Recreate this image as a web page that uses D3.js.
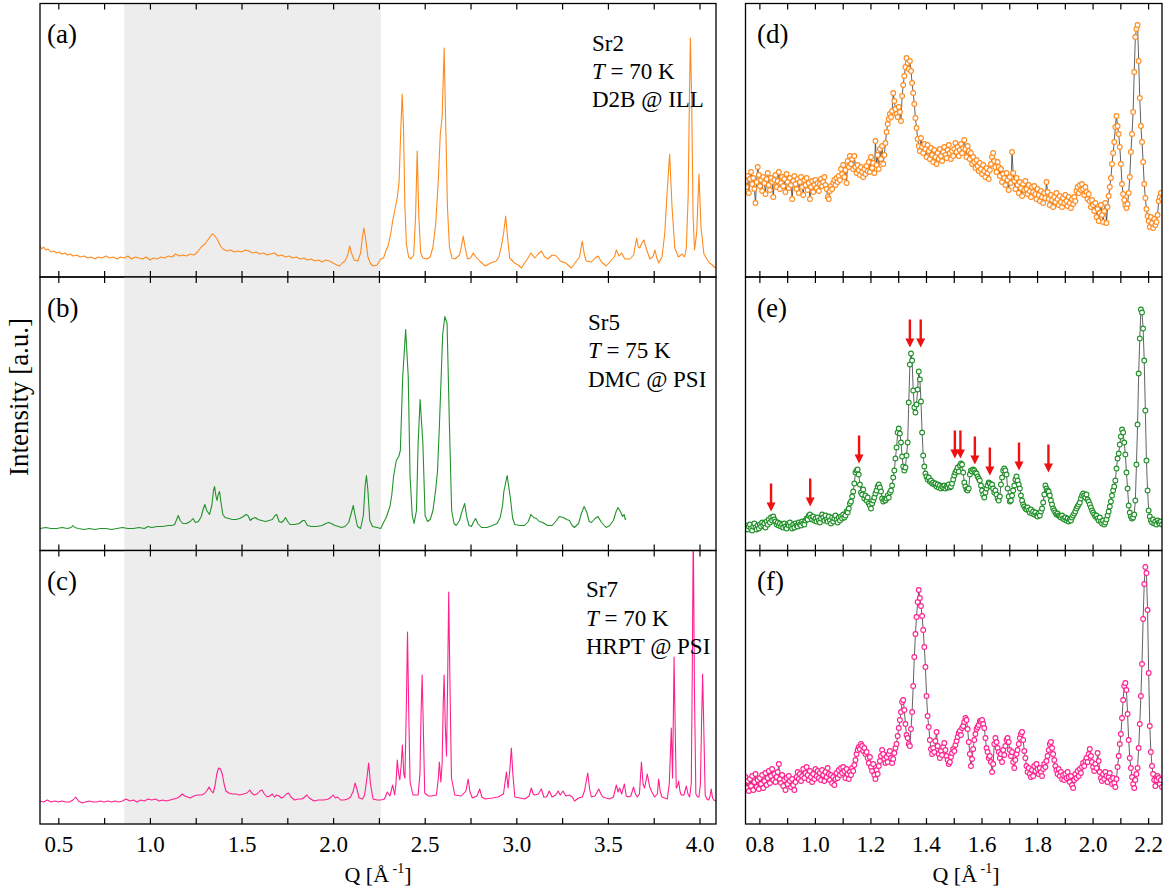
<!DOCTYPE html>
<html>
<head>
<meta charset="utf-8">
<script src="https://cdn.jsdelivr.net/npm/d3@7"></script>
<style>
  body { margin: 0; background: #fff; }
  text { font-family: "Liberation Serif", "Times New Roman", serif; fill: #000; }
</style>
</head>
<body>
<svg id="chart" width="1170" height="895"></svg>
<script>
// ---- data (intensity in arbitrary units) ----

// wide scans, [Q, I] pairs
const sr2Wide = [[0.400,31],[0.410,28],[0.420,30],[0.430,27],[0.445,28],[0.460,25],[0.475,26],[0.490,24],[0.505,25],[0.520,23],[0.535,24],[0.550,22],[0.565,23],[0.580,21],[0.600,22],[0.620,20],[0.640,21],[0.660,19],[0.680,20],[0.700,18],[0.720,20],[0.740,19],[0.760,21],[0.780,19],[0.800,20],[0.820,18],[0.840,20],[0.860,19],[0.880,21],[0.900,18],[0.920,20],[0.940,19],[0.960,18],[0.980,20],[1.000,17],[1.020,19],[1.040,18],[1.060,20],[1.080,19],[1.100,21],[1.120,20],[1.140,23],[1.160,21],[1.180,22],[1.200,21],[1.220,23],[1.240,22],[1.260,25],[1.280,30],[1.300,33],[1.320,38],[1.335,42],[1.345,43],[1.355,41],[1.370,37],[1.385,31],[1.400,28],[1.420,26],[1.440,27],[1.460,25],[1.480,26],[1.500,25],[1.520,27],[1.540,26],[1.560,24],[1.580,25],[1.600,23],[1.620,24],[1.640,22],[1.660,23],[1.680,24],[1.700,21],[1.720,22],[1.740,20],[1.760,21],[1.780,19],[1.800,20],[1.820,18],[1.840,19],[1.860,17],[1.880,18],[1.900,16],[1.920,17],[1.940,15],[1.960,17],[1.980,16],[2.000,14],[2.020,12],[2.035,11],[2.050,14],[2.065,16],[2.080,22],[2.090,31],[2.100,24],[2.115,17],[2.135,16],[2.150,24],[2.160,40],[2.168,49],[2.176,40],[2.190,20],[2.205,13],[2.220,11],[2.240,12],[2.260,18],[2.275,19],[2.290,27],[2.300,31],[2.315,44],[2.325,56],[2.340,70],[2.350,79],[2.360,95],[2.370,150],[2.377,183],[2.384,150],[2.392,70],[2.400,33],[2.412,20],[2.425,18],[2.440,22],[2.450,60],[2.459,126],[2.468,60],[2.478,24],[2.490,19],[2.510,18],[2.530,20],[2.545,30],[2.560,53],[2.575,100],[2.585,143],[2.595,160],[2.606,229],[2.615,150],[2.624,70],[2.635,30],[2.648,19],[2.665,18],[2.690,22],[2.702,32],[2.710,41],[2.720,30],[2.734,18],[2.750,19],[2.765,24],[2.780,20],[2.800,16],[2.830,11],[2.860,14],[2.890,16],[2.905,20],[2.920,32],[2.930,43],[2.942,61],[2.952,40],[2.964,19],[2.990,14],[3.010,12],[3.028,9],[3.045,14],[3.064,19],[3.080,24],[3.100,19],[3.120,23],[3.137,26],[3.155,20],[3.173,18],[3.195,22],[3.219,21],[3.240,16],[3.270,14],[3.300,9],[3.320,14],[3.345,20],[3.360,36],[3.372,22],[3.382,16],[3.410,15],[3.430,19],[3.446,21],[3.465,15],[3.491,11],[3.515,16],[3.535,20],[3.546,27],[3.560,21],[3.575,24],[3.592,18],[3.620,18],[3.640,22],[3.657,39],[3.666,30],[3.674,29],[3.685,34],[3.696,37],[3.710,28],[3.729,18],[3.745,20],[3.757,27],[3.767,19],[3.778,14],[3.795,20],[3.810,43],[3.825,90],[3.837,123],[3.850,70],[3.865,29],[3.885,20],[3.905,23],[3.918,20],[3.928,29],[3.938,80],[3.945,180],[3.950,239],[3.957,180],[3.965,60],[3.973,27],[3.985,45],[3.997,103],[4.008,50],[4.024,23],[4.040,18],[4.055,14],[4.070,12],[4.086,9]];

const sr5Wide = [[0.400,22],[0.430,23],[0.460,22],[0.490,22],[0.520,23],[0.550,22],[0.570,23],[0.580,25],[0.590,23],[0.610,22],[0.640,21],[0.670,22],[0.700,21],[0.730,22],[0.760,22],[0.790,21],[0.820,22],[0.850,23],[0.880,22],[0.910,22],[0.940,23],[0.970,22],[0.990,24],[1.010,23],[1.040,24],[1.070,24],[1.100,25],[1.120,25],[1.135,26],[1.148,32],[1.155,35],[1.165,30],[1.180,27],[1.200,27],[1.220,29],[1.235,32],[1.248,28],[1.265,29],[1.280,34],[1.292,42],[1.300,46],[1.310,40],[1.325,36],[1.338,45],[1.347,60],[1.353,64],[1.360,55],[1.366,50],[1.373,56],[1.380,59],[1.388,48],[1.398,36],[1.410,33],[1.430,32],[1.450,31],[1.470,31],[1.490,32],[1.510,34],[1.525,36],[1.535,35],[1.548,30],[1.560,32],[1.575,33],[1.590,31],[1.610,30],[1.630,29],[1.650,30],[1.668,31],[1.683,35],[1.692,36],[1.705,29],[1.718,28],[1.730,30],[1.740,33],[1.752,29],[1.765,26],[1.790,26],[1.815,27],[1.835,30],[1.845,30],[1.860,25],[1.880,24],[1.910,24],[1.940,25],[1.960,27],[1.975,28],[1.990,27],[2.010,25],[2.030,24],[2.045,23],[2.065,24],[2.085,28],[2.100,38],[2.110,45],[2.120,35],[2.133,24],[2.150,22],[2.165,35],[2.175,65],[2.182,75],[2.190,60],[2.200,30],[2.215,24],[2.240,23],[2.260,22],[2.275,28],[2.290,33],[2.310,44],[2.320,55],[2.330,74],[2.345,90],[2.358,94],[2.367,100],[2.380,174],[2.396,221],[2.410,174],[2.420,74],[2.432,35],[2.442,27],[2.455,40],[2.464,107],[2.475,151],[2.490,107],[2.502,35],[2.515,29],[2.530,31],[2.545,40],[2.560,61],[2.570,80],[2.580,124],[2.598,216],[2.610,234],[2.622,227],[2.635,124],[2.647,40],[2.660,27],[2.672,25],[2.690,30],[2.700,37],[2.718,47],[2.730,33],[2.742,25],[2.755,24],[2.765,28],[2.778,32],[2.790,27],[2.810,23],[2.840,23],[2.870,25],[2.895,27],[2.912,33],[2.925,45],[2.932,59],[2.950,75],[2.968,52],[2.980,32],[2.992,26],[3.020,25],[3.045,25],[3.065,29],[3.080,36],[3.095,33],[3.110,32],[3.125,29],[3.145,28],[3.170,25],[3.195,25],[3.215,29],[3.235,34],[3.255,33],[3.275,31],[3.290,30],[3.305,25],[3.317,23],[3.340,27],[3.355,37],[3.370,44],[3.385,38],[3.398,29],[3.410,28],[3.430,32],[3.446,34],[3.465,28],[3.490,23],[3.510,25],[3.530,30],[3.545,39],[3.555,43],[3.568,39],[3.580,34],[3.588,36],[3.595,31],[3.600,32]];

const sr7Wide = [[0.400,23],[0.420,22],[0.440,24],[0.460,22],[0.480,23],[0.500,22],[0.520,23],[0.540,22],[0.560,22],[0.580,24],[0.595,27],[0.610,23],[0.630,21],[0.650,22],[0.670,23],[0.690,22],[0.710,22],[0.730,23],[0.750,22],[0.770,23],[0.790,22],[0.810,23],[0.830,22],[0.850,23],[0.870,25],[0.890,23],[0.910,24],[0.930,22],[0.950,24],[0.970,23],[0.990,25],[1.010,24],[1.030,25],[1.050,23],[1.070,24],[1.090,23],[1.110,24],[1.130,25],[1.150,26],[1.165,28],[1.177,30],[1.190,28],[1.205,27],[1.220,26],[1.240,28],[1.260,29],[1.280,29],[1.295,30],[1.310,33],[1.323,37],[1.335,33],[1.345,31],[1.355,38],[1.365,50],[1.375,56],[1.385,55],[1.395,50],[1.405,40],[1.415,33],[1.430,31],[1.450,30],[1.470,30],[1.490,29],[1.510,30],[1.530,31],[1.545,34],[1.555,31],[1.570,29],[1.585,30],[1.600,33],[1.612,34],[1.625,30],[1.640,27],[1.655,28],[1.668,30],[1.680,27],[1.692,29],[1.705,28],[1.718,26],[1.730,27],[1.745,30],[1.756,31],[1.770,27],[1.790,24],[1.810,25],[1.830,25],[1.845,27],[1.857,29],[1.870,26],[1.895,23],[1.920,24],[1.950,24],[1.975,25],[1.990,27],[2.000,29],[2.012,26],[2.025,27],[2.040,24],[2.060,24],[2.080,25],[2.095,27],[2.110,33],[2.120,41],[2.130,35],[2.142,26],[2.160,25],[2.172,29],[2.184,45],[2.194,61],[2.204,40],[2.218,25],[2.240,24],[2.260,24],[2.280,25],[2.296,32],[2.310,28],[2.325,39],[2.336,29],[2.343,40],[2.350,64],[2.358,50],[2.364,44],[2.372,60],[2.378,79],[2.386,50],[2.392,46],[2.400,120],[2.406,192],[2.413,110],[2.420,42],[2.436,29],[2.464,29],[2.474,50],[2.480,110],[2.486,149],[2.492,100],[2.500,31],[2.520,28],[2.537,28],[2.564,29],[2.574,45],[2.580,62],[2.588,42],[2.595,60],[2.601,120],[2.606,149],[2.612,100],[2.619,68],[2.625,140],[2.631,232],[2.637,150],[2.646,46],[2.664,29],[2.700,28],[2.725,33],[2.737,45],[2.747,32],[2.760,26],[2.785,28],[2.800,35],[2.812,27],[2.830,25],[2.870,26],[2.900,27],[2.930,30],[2.946,52],[2.955,36],[2.965,55],[2.973,76],[2.981,50],[2.992,27],[3.020,26],[3.046,25],[3.070,28],[3.082,36],[3.092,30],[3.100,29],[3.120,30],[3.137,35],[3.150,27],[3.165,27],[3.180,33],[3.195,27],[3.215,29],[3.228,33],[3.240,29],[3.255,33],[3.270,28],[3.290,29],[3.305,27],[3.318,23],[3.340,26],[3.360,27],[3.372,33],[3.390,51],[3.400,35],[3.410,27],[3.430,28],[3.450,35],[3.462,30],[3.473,27],[3.490,26],[3.510,25],[3.530,27],[3.546,39],[3.555,32],[3.564,36],[3.575,30],[3.590,40],[3.600,28],[3.610,27],[3.625,28],[3.640,37],[3.650,30],[3.660,27],[3.672,30],[3.683,62],[3.692,40],[3.700,36],[3.715,50],[3.727,38],[3.737,33],[3.755,27],[3.770,30],[3.777,45],[3.786,32],[3.795,27],[3.810,26],[3.824,25],[3.835,40],[3.846,96],[3.853,46],[3.858,120],[3.861,167],[3.866,110],[3.873,36],[3.880,38],[3.886,43],[3.893,33],[3.900,29],[3.915,29],[3.928,38],[3.937,30],[3.946,27],[3.955,40],[3.960,140],[3.966,300],[3.972,140],[3.980,30],[3.990,27],[3.997,27],[4.005,40],[4.011,100],[4.017,150],[4.024,90],[4.031,29],[4.040,25],[4.050,24],[4.058,28],[4.064,35],[4.071,26],[4.078,24],[4.090,23]];

// zoomed scans: detector points equally spaced from zoomGrid[0] to zoomGrid[1]
const zoomGrid = [0.75, 2.25];
const sr2Zoom = [96,90,101,84,98,105,93,99,88,74,95,110,102,91,97,86,100,94,83,98,104,92,87,99,95,80,97,102,90,96,105,88,94,100,91,98,85,103,95,89,99,92,78,96,101,93,88,98,84,95,100,90,82,97,92,99,87,94,78,90,96,85,92,97,89,94,86,93,98,91,95,100,92,88,80,78,86,91,88,94,97,92,99,95,101,97,108,103,112,100,107,94,116,110,121,113,118,108,121,110,104,112,107,102,110,105,100,108,103,111,106,115,105,120,109,114,104,136,112,122,108,128,118,131,113,122,134,145,153,158,163,160,166,184,176,168,163,160,170,165,156,181,192,201,210,219,214,208,216,206,194,184,173,159,149,138,131,126,139,130,124,133,128,120,132,126,118,129,122,115,127,120,113,124,118,128,121,116,125,130,122,119,127,132,124,118,126,121,128,134,125,130,121,127,133,124,129,137,128,120,131,126,118,124,113,120,115,109,117,111,106,114,108,103,112,106,100,109,104,98,107,113,120,124,116,110,105,115,110,101,108,95,103,99,92,104,97,87,100,94,125,104,96,88,99,92,84,95,89,81,93,87,96,88,83,92,86,80,90,85,91,83,78,88,82,76,86,80,74,84,79,95,85,78,72,82,77,70,80,75,84,78,72,81,75,70,79,74,82,76,71,80,74,69,78,73,80,76,86,90,84,92,87,93,88,82,90,85,78,83,76,70,77,72,66,74,60,68,56,64,72,62,55,66,74,54,70,81,90,99,113,124,135,150,161,151,143,130,113,93,83,77,72,69,73,84,100,125,143,165,205,240,248,252,216,179,151,135,115,93,79,68,61,56,50,60,54,49,58,52,55,62,76,80,84,78];

const sr5Zoom = [22,25,21,24,26,22,20,24,27,23,21,25,22,26,24,28,25,27,23,29,26,31,28,33,30,34,31,29,26,28,25,27,24,26,23,27,24,22,26,25,28,24,22,26,23,27,25,24,28,26,25,29,27,26,30,32,31,35,36,33,31,34,30,32,29,33,30,28,32,36,33,30,35,31,29,34,30,27,33,29,32,35,31,28,33,30,34,32,36,33,35,39,38,42,47,49,54,59,67,78,80,81,76,66,58,56,61,52,55,50,53,47,45,42,47,50,53,57,60,64,66,63,59,52,49,51,50,52,55,53,58,60,65,73,80,92,103,118,122,117,108,94,84,80,83,95,108,148,186,197,190,160,143,138,146,161,179,171,149,118,95,84,77,74,71,73,69,70,67,68,66,67,64,66,63,65,62,64,63,65,62,64,63,66,63,64,67,71,75,78,80,83,79,85,87,86,78,68,64,61,60,62,76,80,79,81,80,78,77,74,72,70,65,60,56,53,58,62,65,68,67,64,66,62,58,60,56,52,50,54,66,73,80,82,80,76,62,54,49,50,55,60,65,71,74,70,66,62,55,50,46,44,42,41,43,40,38,41,37,39,36,38,35,34,37,35,39,42,48,56,65,62,60,59,55,50,46,42,40,38,36,37,35,34,33,35,32,31,33,30,32,29,31,30,33,35,37,39,42,44,46,48,52,55,57,55,53,56,51,49,46,43,40,38,36,34,35,32,30,33,29,27,30,26,28,31,35,39,44,49,55,60,64,70,82,92,97,106,114,121,118,108,96,78,62,45,38,34,32,33,36,50,86,126,177,212,241,238,222,190,140,90,60,40,34,30,28,31,27,29,26,30,28,27,29,26];

const sr7Zoom = [47,36,43,33,45,38,48,34,42,50,37,44,35,46,40,49,36,43,51,39,46,53,41,48,55,44,50,42,47,52,60,45,41,49,38,44,34,46,40,48,43,37,45,39,34,42,47,52,45,50,43,48,55,46,51,57,49,44,53,47,42,50,45,55,48,53,46,51,44,54,49,43,52,47,56,50,44,49,41,47,39,45,51,46,54,49,56,51,57,53,46,55,50,45,52,49,56,53,59,64,70,74,77,75,80,78,73,76,70,72,66,61,67,57,53,60,49,45,54,50,58,63,68,74,70,65,61,67,62,70,73,66,61,65,71,76,80,88,96,104,112,122,124,114,100,89,86,80,78,95,112,138,167,190,207,222,234,226,218,208,194,177,157,128,108,97,84,75,70,76,72,83,92,78,70,66,73,69,77,81,74,68,64,60,62,67,71,75,73,79,83,87,91,93,89,96,98,102,106,104,95,82,70,58,65,75,84,90,95,97,99,103,102,104,100,96,86,76,72,66,68,62,52,60,80,86,82,76,72,66,70,62,74,69,78,84,86,82,74,68,72,62,56,64,70,74,80,86,90,92,84,73,66,58,52,56,50,47,54,48,58,53,60,55,50,56,52,48,55,60,57,63,68,74,80,82,76,70,64,58,54,50,55,48,52,45,49,44,50,46,52,47,42,48,39,36,44,50,46,53,48,55,51,57,61,58,63,66,62,70,75,68,62,57,53,60,56,71,63,52,46,43,50,45,52,48,42,47,51,44,40,46,41,37,45,57,68,80,90,106,124,138,141,134,110,84,66,56,47,40,36,44,50,56,76,100,128,160,205,240,257,251,214,151,98,72,58,50,44,38,44,48,46,40,44,37];

// red markers in (e): Q position and intensity the arrow points at
const arrowQ = [0.842, 0.983, 1.159, 1.342, 1.381, 1.504, 1.524, 1.576, 1.630, 1.735, 1.841];
const arrowTip = [39, 44, 87, 203, 203, 92, 92, 86, 75, 80, 78];

// axes / labels
const qWide = [0.4, 4.09];
const qZoom = [0.75, 2.25];
const shadeQ = [0.86, 2.26];
const wideTicks = [0.5, 0.75, 1.0, 1.25, 1.5, 1.75, 2.0, 2.25, 2.5, 2.75, 3.0, 3.25, 3.5, 3.75, 4.0];
const wideTickLabels = ['0.5', '', '1.0', '', '1.5', '', '2.0', '', '2.5', '', '3.0', '', '3.5', '', '4.0'];
const zoomTicks = [0.8, 0.9, 1.0, 1.1, 1.2, 1.3, 1.4, 1.5, 1.6, 1.7, 1.8, 1.9, 2.0, 2.1, 2.2];
const zoomTickLabels = ['0.8', '', '1.0', '', '1.2', '', '1.4', '', '1.6', '', '1.8', '', '2.0', '', '2.2'];
const wideLetters = ['(a)', '(b)', '(c)'];
const zoomLetters = ['(d)', '(e)', '(f)'];
const samples = ['Sr2', 'Sr5', 'Sr7'];
const temps = ['70 K', '75 K', '70 K'];
const instruments = ['D2B @ ILL', 'DMC @ PSI', 'HRPT @ PSI'];

// ---- layout ----
const svg = d3.select('#chart');
const leftX = [40, 716];
const rightX = [745.5, 1162];
const rows = [[3.5, 277], [277, 550.5], [550.5, 824]];
const yMax = 273.5;
const colors = ['#ff8a1c', '#22922a', '#ff1f8e'];
const annoPos = [[592, 50.7], [588, 330], [586, 597.3]];

const xL = d3.scaleLinear().domain(qWide).range(leftX);
const xR = d3.scaleLinear().domain(qZoom).range(rightX);

const wideData = [sr2Wide, sr5Wide, sr7Wide];
const zoomData = [sr2Zoom, sr5Zoom, sr7Zoom].map(arr => {
  const step = (zoomGrid[1] - zoomGrid[0]) / (arr.length - 1);
  return arr.map((v, i) => [zoomGrid[0] + i * step, v]);
});

const defs = svg.append('defs');

function addClip(id, x0, x1, y0, y1) {
  defs.append('clipPath').attr('id', id)
    .append('rect').attr('x', x0).attr('y', y0).attr('width', x1 - x0).attr('height', y1 - y0);
}

function drawTicks(x, ticks, labels, y0, y1, showLabels) {
  const bottom = svg.append('g')
    .attr('transform', `translate(0,${y1})`)
    .call(d3.axisBottom(x).tickValues(ticks).tickSize(-6).tickFormat((d, i) => showLabels ? labels[i] : ''));
  const top = svg.append('g')
    .attr('transform', `translate(0,${y0})`)
    .call(d3.axisTop(x).tickValues(ticks).tickSize(-6).tickFormat(''));
  [bottom, top].forEach(g => {
    g.select('.domain').remove();
    g.selectAll('line').attr('stroke', '#000').attr('stroke-width', 1.2);
  });
  bottom.selectAll('text')
    .attr('y', 28).attr('dy', null)
    .style('font-family', '"Liberation Serif", "Times New Roman", serif')
    .style('font-size', '23px')
    .attr('fill', '#000');
}

rows.forEach((r, i) => {
  const [y0, y1] = r;
  const y = d3.scaleLinear().domain([0, yMax]).range([y1, y0]);

  // ---- left, full range ----
  addClip('clipL' + i, leftX[0], leftX[1], y0, y1);
  svg.append('rect')
    .attr('x', xL(shadeQ[0])).attr('y', y0)
    .attr('width', xL(shadeQ[1]) - xL(shadeQ[0])).attr('height', y1 - y0)
    .attr('fill', '#ededed');

  const line = d3.line().x(d => xL(d[0])).y(d => y(d[1]));
  svg.append('path')
    .datum(wideData[i])
    .attr('clip-path', `url(#clipL${i})`)
    .attr('d', line)
    .attr('fill', 'none')
    .attr('stroke', colors[i])
    .attr('stroke-width', 1.1)
    .attr('stroke-linejoin', 'round');

  svg.append('rect')
    .attr('x', leftX[0]).attr('y', y0)
    .attr('width', leftX[1] - leftX[0]).attr('height', y1 - y0)
    .attr('fill', 'none').attr('stroke', '#000').attr('stroke-width', 1.3);

  drawTicks(xL, wideTicks, wideTickLabels, y0, y1, i === 2);

  svg.append('text')
    .attr('x', 47).attr('y', y0 + 39.5)
    .style('font-size', '27px')
    .text(wideLetters[i]);

  const [ax, ay] = annoPos[i];
  const anno = svg.append('g').style('font-size', '23px');
  anno.append('text').attr('x', ax).attr('y', ay).text(samples[i]);
  const tl = anno.append('text').attr('x', ax).attr('y', ay + 28.3);
  tl.append('tspan').style('font-style', 'italic').text('T');
  tl.append('tspan').text(' = ' + temps[i]);
  anno.append('text').attr('x', ax).attr('y', ay + 56.6).text(instruments[i]);

  // ---- right, zoomed range ----
  addClip('clipR' + i, rightX[0], rightX[1], y0, y1);
  const gz = svg.append('g').attr('clip-path', `url(#clipR${i})`);
  const lineR = d3.line().x(d => xR(d[0])).y(d => y(d[1]));
  gz.append('path')
    .datum(zoomData[i])
    .attr('d', lineR)
    .attr('fill', 'none')
    .attr('stroke', '#3a3a3a')
    .attr('stroke-width', 0.8);
  gz.selectAll('circle')
    .data(zoomData[i])
    .join('circle')
    .attr('cx', d => xR(d[0]))
    .attr('cy', d => y(d[1]))
    .attr('r', 2.4)
    .attr('fill', '#fff')
    .attr('stroke', colors[i])
    .attr('stroke-width', 1.1);

  if (i === 1) {
    const ga = svg.append('g');
    arrowQ.forEach((q, k) => {
      const ax2 = xR(q), tip = y(arrowTip[k]);
      ga.append('line')
        .attr('x1', ax2).attr('x2', ax2)
        .attr('y1', tip - 28).attr('y2', tip - 8)
        .attr('stroke', '#ee1111').attr('stroke-width', 2.4);
      ga.append('path')
        .attr('d', `M${ax2 - 4.5},${tip - 9}L${ax2 + 4.5},${tip - 9}L${ax2},${tip}Z`)
        .attr('fill', '#ee1111');
    });
  }

  svg.append('rect')
    .attr('x', rightX[0]).attr('y', y0)
    .attr('width', rightX[1] - rightX[0]).attr('height', y1 - y0)
    .attr('fill', 'none').attr('stroke', '#000').attr('stroke-width', 1.3);

  drawTicks(xR, zoomTicks, zoomTickLabels, y0, y1, i === 2);

  svg.append('text')
    .attr('x', 757).attr('y', y0 + 39.5)
    .style('font-size', '27px')
    .text(zoomLetters[i]);
});

// axis titles
svg.append('text')
  .attr('transform', 'translate(28,397) rotate(-90)')
  .attr('text-anchor', 'middle')
  .style('font-size', '27px')
  .text('Intensity [a.u.]');

function qLabel(cx) {
  const t = svg.append('text')
    .attr('x', cx).attr('y', 882)
    .attr('text-anchor', 'middle')
    .style('font-size', '22px');
  t.append('tspan').text('Q [Å');
  t.append('tspan').attr('dy', -9).style('font-size', '14px').text(' -1');
  t.append('tspan').attr('dy', 9).text(']');
}
qLabel((leftX[0] + leftX[1]) / 2);
qLabel(966);
</script>
</body>
</html>
